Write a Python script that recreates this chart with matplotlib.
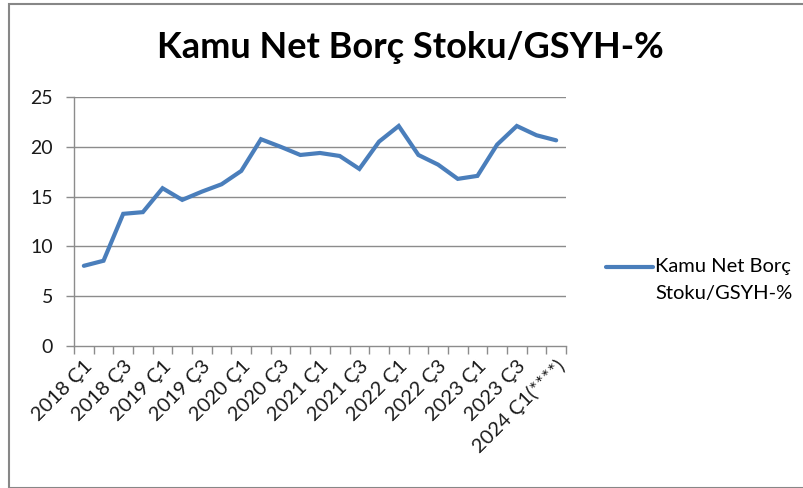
import matplotlib
matplotlib.use("Agg")
import matplotlib.pyplot as plt
from matplotlib.patches import Rectangle
from matplotlib.legend_handler import HandlerLine2D

plt.rcParams['font.family'] = ['Lato', 'DejaVu Sans']

quarters = [
    "2018 Ç1", "2018 Ç2", "2018 Ç3", "2018 Ç4",
    "2019 Ç1", "2019 Ç2", "2019 Ç3", "2019 Ç4",
    "2020 Ç1", "2020 Ç2", "2020 Ç3", "2020 Ç4",
    "2021 Ç1", "2021 Ç2", "2021 Ç3", "2021 Ç4",
    "2022 Ç1", "2022 Ç2", "2022 Ç3", "2022 Ç4",
    "2023 Ç1", "2023 Ç2", "2023 Ç3", "2023 Ç4",
    "2024 Ç1(****)",
]
values = [8.05, 8.56, 13.27, 13.44, 15.84, 14.67, 15.5, 16.24, 17.58, 20.76,
          20.0, 19.18, 19.38, 19.08, 17.78, 20.52, 22.09, 19.18, 18.21, 16.78,
          17.08, 20.22, 22.09, 21.16, 20.65]
series_name = "Kamu Net Borç\nStoku/GSYH-%"
title = "Kamu Net Borç Stoku/GSYH-%"
yticks = [0, 5, 10, 15, 20, 25]


class ShiftedLineHandler(HandlerLine2D):
    def create_artists(self, legend, orig_handle, xdescent, ydescent,
                       width, height, fontsize, trans):
        arts = super().create_artists(legend, orig_handle, xdescent, ydescent,
                                      width, height, fontsize, trans)
        for a in arts:
            a.set_ydata([yy + 9.5 for yy in a.get_ydata()])
        return arts


fig = plt.figure(figsize=(8.04, 4.88), dpi=100)
fig.patches.append(Rectangle((8.5/804, 0.5/488), 1.2, 1 - 4/488,
                             transform=fig.transFigure, fill=False,
                             edgecolor='#878787', linewidth=1.5))

ax = fig.add_axes([74/804, 1 - 346/488, (566 - 74)/804, (346 - 97)/488])
x = list(range(len(values)))
line, = ax.plot(x, values, color='#4A7EBB', linewidth=3.0, solid_capstyle='round',
                solid_joinstyle='miter', label=series_name)

ax.set_xlim(-0.5, len(values) - 0.5)
ax.set_ylim(0, 25)
ax.set_yticks(yticks)
ax.set_yticklabels([str(v) for v in yticks], fontsize=14, color='#1a1a1a')
for yv in yticks[1:]:
    ax.axhline(yv, color='#8c8c8c', linewidth=1, zorder=0)

ax.set_xticks(x[::2])
ax.set_xticklabels(quarters[::2], rotation=45, ha='right', rotation_mode='anchor',
                   fontsize=14.5, color='#1a1a1a')
ax.tick_params(axis='x', length=0, pad=8)
ax.set_xticks([i - 0.5 for i in range(len(values) + 1)], minor=True)
ax.tick_params(axis='x', which='minor', length=6, color='#8c8c8c', width=1)
ax.tick_params(axis='y', length=6, color='#8c8c8c', width=1, pad=9)

for s in ['top', 'right']:
    ax.spines[s].set_visible(False)
for s in ['left', 'bottom']:
    ax.spines[s].set_color('#8c8c8c')
    ax.spines[s].set_linewidth(1)

fig.text(410/804, 1 - 47/488, title, fontsize=26, fontweight='bold',
         ha='center', va='center', color='#000000')

leg = fig.legend(handles=[line], loc='center left',
                 bbox_to_anchor=(598/804, 1 - 280/488), frameon=False,
                 fontsize=14.5, handlelength=2.35, handletextpad=0.1,
                 borderaxespad=0,
                 handler_map={line: ShiftedLineHandler()})
for t in leg.get_texts():
    t.set_linespacing(1.7)

fig.savefig("out.png", dpi=100)
